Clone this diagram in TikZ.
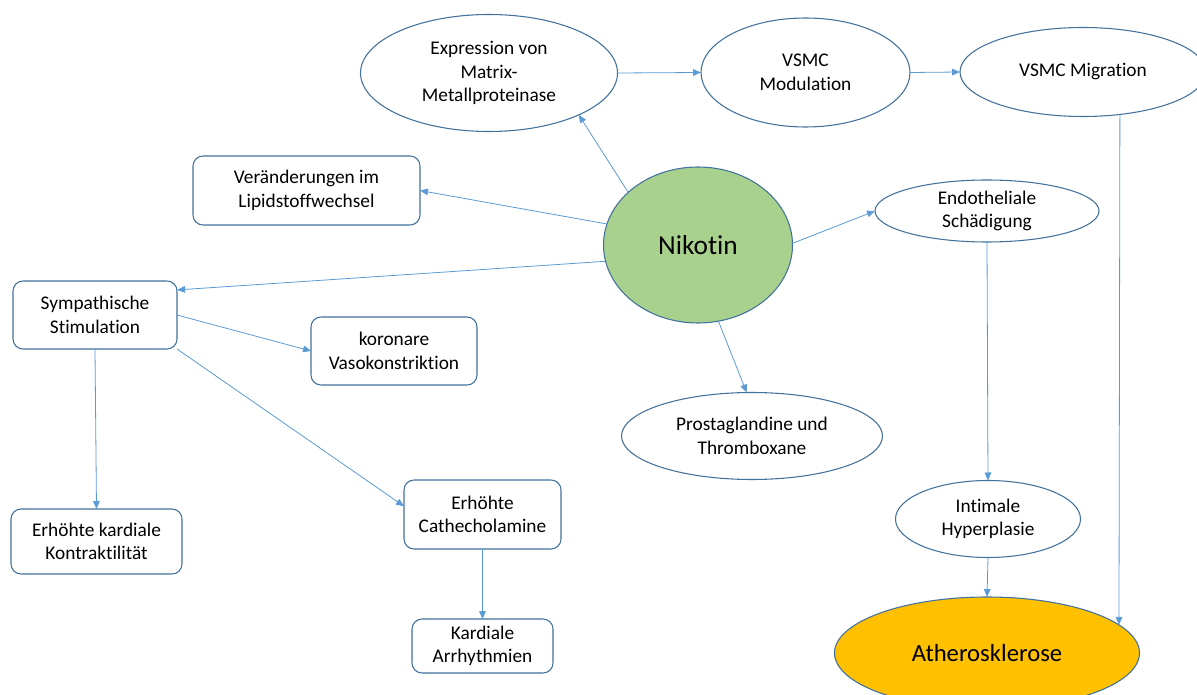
\documentclass[tikz,border=0pt]{standalone}
\usepackage{fontspec}
\setmainfont[Ligatures={NoCommon,NoRequired}]{Carlito}
\usepackage{tikz}
\usepackage{xcolor}
\usetikzlibrary{shapes.geometric,arrows.meta}

\definecolor{rimblue}{HTML}{41719C}
\definecolor{arrblue}{HTML}{5B9BD5}
\definecolor{nikgreen}{HTML}{A9D18E}
\definecolor{athgold}{HTML}{FFC000}

\begin{document}
\begin{tikzpicture}[x=0.75pt,y=0.75pt,yscale=-1,xscale=1,
    oval/.style={ellipse,draw=rimblue,line width=0.8pt,fill=white,inner sep=0pt,outer sep=0pt,align=center,font=\fontsize{14.5}{17.6}\selectfont},
    box/.style={rectangle,rounded corners=7.5pt,draw=rimblue,line width=0.8pt,fill=white,inner sep=0pt,outer sep=0pt,align=center,font=\fontsize{14.5}{17.6}\selectfont},
    arr/.style={draw=arrblue,line width=0.6pt,-{Triangle[length=6pt,width=5pt]}}]
    \useasboundingbox (0,0) rectangle (1197,695);

    %Ellipses
    \node (expr) [oval,minimum width=192.75pt,minimum height=87.75pt] at (489,73) {Expression von\\Matrix-\\Metallproteinase};
    \node (mod) [oval,minimum width=156.75pt,minimum height=81.75pt] at (805.5,72.5) {VSMC\\Modulation};
    \node (mig) [oval,minimum width=184.5pt,minimum height=66.75pt] at (1083,72) {VSMC Migration};
    \node (nik) [oval,fill=nikgreen,font=\fontsize{20.5}{24}\selectfont,minimum width=141.75pt,minimum height=117pt] at (698,245) {Nikotin};
    \node (endo) [oval,minimum width=168pt,minimum height=46.5pt] at (987,211) {Endotheliale\\Schädigung};
    \node (prost) [oval,minimum width=195.75pt,minimum height=65.25pt] at (752,436) {Prostaglandine und\\Thromboxane};
    \node (intim) [oval,minimum width=138.75pt,minimum height=57.75pt] at (988,519) {Intimale\\Hyperplasie};
    \node (athero) [oval,fill=athgold,font=\fontsize{18.5}{22}\selectfont,minimum width=228.75pt,minimum height=84pt] at (987,653) {Atherosklerose};

    %Rounded Rects
    \node (lipid) [box,minimum width=170.25pt,minimum height=51.75pt] at (306.5,190.5) {Veränderungen im\\Lipidstoffwechsel};
    \node (symp) [box,minimum width=123pt,minimum height=51pt] at (95,315) {Sympathische\\Stimulation};
    \node (koro) [box,minimum width=124.5pt,minimum height=51pt] at (394,351) {koronare\\Vasokonstriktion};
    \node (kontr) [box,minimum width=128.25pt,minimum height=48.75pt] at (96.5,541.5) {Erhöhte kardiale\\Kontraktilität};
    \node (cath) [box,minimum width=117.75pt,minimum height=51.75pt] at (482.5,514.5) {Erhöhte\\Cathecholamine};
    \node (arrh) [box,minimum width=105.75pt,minimum height=40.5pt] at (482.5,646) {Kardiale\\Arrhythmien};

    %Straight Lines
    \draw [arr] (expr.east) -- (mod.west);
    \draw [arr] (mod.east) -- (mig.west);
    \draw [arr] (mig.311) -- (athero.12);
    \draw [arr] (nik.143) -- (expr.335);
    \draw [arr] (nik.167.5) -- (lipid.east);
    \draw [arr] (nik.190.7) -- (symp.17);
    \draw [arr] (nik.1) -- (endo.west);
    \draw [arr] (nik.285) -- (prost.97);
    \draw [arr] (endo.south) -- (intim.north);
    \draw [arr] (intim.south) -- (athero.north);
    \draw [arr] (symp.east) -- (koro.west);
    \draw [arr] (symp.south) -- (kontr.north);
    \draw [arr] (symp.south east) -- (cath.174);
    \draw [arr] (cath.south) -- (arrh.north);

\end{tikzpicture}
\end{document}
